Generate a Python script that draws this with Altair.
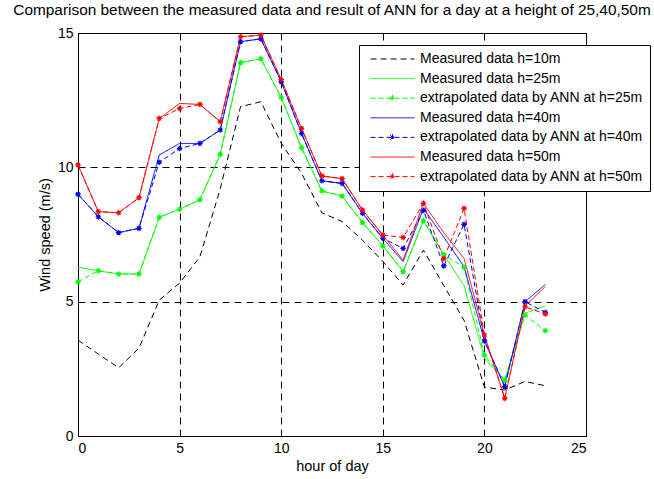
import altair as alt
import pandas as pd

hours = list(range(24))

m10 = [3.57, 3.05, 2.54, 3.27, 5.06, 5.69, 6.67, 9.2, 12.26, 12.44, 10.9, 9.78,
       8.31, 7.98, 7.29, 6.5, 5.62, 6.92, 5.6, 4.3, 1.82, 1.71, 2.03, 1.87]
m25 = [6.28, 6.15, 6.03, 6.03, 8.14, 8.44, 8.8, 10.48, 13.9, 14.04, 12.6, 10.73,
       9.12, 8.93, 7.94, 7.08, 6.12, 8.01, 6.75, 5.6, 2.89, 2.08, 4.57, 4.84]
e25 = [5.74, 6.15, 6.03, 6.03, 8.14, 8.44, 8.8, 10.48, 13.9, 14.04, 12.6, 10.73,
       9.12, 8.93, 7.94, 7.08, 6.12, 8.01, 6.75, 6.28, 3.01, 2.08, 4.5, 3.92]
m40 = [9.0, 8.16, 7.57, 7.73, 10.46, 10.89, 10.89, 11.39, 14.68, 14.78, 13.19, 11.26,
       9.5, 9.4, 8.29, 7.36, 6.49, 8.47, 7.4, 6.3, 3.55, 1.84, 5.0, 5.64]
e40 = [9.0, 8.16, 7.57, 7.73, 10.19, 10.7, 10.89, 11.39, 14.68, 14.78, 13.19, 11.26,
       9.5, 9.4, 8.29, 7.36, 6.98, 8.4, 6.33, 7.88, 3.54, 1.84, 5.0, 4.6]
m50 = [10.09, 8.35, 8.31, 8.87, 11.82, 12.38, 12.34, 11.7, 14.86, 14.92, 13.27, 11.45,
       9.68, 9.58, 8.41, 7.48, 6.55, 8.66, 7.57, 6.61, 3.76, 1.4, 4.84, 5.56]
e50 = [10.09, 8.35, 8.31, 8.87, 11.82, 12.19, 12.34, 11.7, 14.86, 14.92, 13.27, 11.45,
       9.68, 9.58, 8.41, 7.48, 7.39, 8.66, 6.6, 8.47, 3.76, 1.4, 4.81, 4.54]

names = [
    "Measured data h=10m",
    "Measured data h=25m",
    "extrapolated data by ANN at h=25m",
    "Measured data h=40m",
    "extrapolated data by ANN at h=40m",
    "Measured data h=50m",
    "extrapolated data by ANN at h=50m",
]
series_values = [m10, m25, e25, m40, e40, m50, e50]
ext_names = [names[2], names[4], names[6]]

colors = ["#000000", "#00FF00", "#00FF00", "#0000FF", "#0000FF", "#FF0000", "#FF0000"]
dashes = [[6, 4], [1, 0], [5, 3], [1, 0], [5, 3], [1, 0], [5, 3]]

LINE_PATH = "M-0.45,0H7.55"
STAR_LEG = ("M-0.45,0H7.55M3.55,-0.6V0.6M2.95,0H4.15M3.13,-0.42L3.97,0.42M3.13,0.42L3.97,-0.42")
legend_shapes = [LINE_PATH, LINE_PATH, STAR_LEG, LINE_PATH, STAR_LEG, LINE_PATH, STAR_LEG]
ASTERISK = "M-1,0H1M0,-1V1M-0.7,-0.7L0.7,0.7M-0.7,0.7L0.7,-0.7"

rows = []
for k, (name, vals) in enumerate(zip(names, series_values)):
    for h, v in zip(hours, vals):
        rows.append({"series": name, "hour": h, "speed": v, "k": k})
df = pd.DataFrame(rows)

FONT = "Liberation Sans"

leg = alt.Legend(title=None, orient="none", legendX=281, legendY=12, zindex=1)

x = alt.X("hour:Q", scale=alt.Scale(domain=[0, 25], nice=False),
          axis=alt.Axis(values=[0, 5, 10, 15, 20, 25], title="hour of day"))
y = alt.Y("speed:Q", scale=alt.Scale(domain=[0, 15], nice=False),
          axis=alt.Axis(values=[0, 5, 10, 15], title="Wind speed (m/s)"))
color = alt.Color("series:N", scale=alt.Scale(domain=names, range=colors), legend=leg)
dash = alt.StrokeDash("series:N", scale=alt.Scale(domain=names, range=dashes), legend=leg)
shape = alt.Shape("series:N", scale=alt.Scale(domain=names, range=legend_shapes), legend=leg)

base = alt.Chart(df)

lines = base.mark_line(strokeWidth=1).encode(
    x=x, y=y, color=color, strokeDash=dash, order="hour:Q"
)

points = base.transform_filter(
    alt.FieldOneOfPredicate(field="series", oneOf=ext_names)
).mark_point(shape=ASTERISK, size=30, filled=False, strokeWidth=1.2, opacity=1).encode(
    x=x, y=y, color=color
)

dummy = base.transform_filter("false").mark_point(filled=False, strokeWidth=1).encode(
    x=x, y=y, color=color, strokeDash=dash, shape=shape
)

chart = alt.layer(lines, points, dummy).properties(
    width=508,
    height=403,
    title=alt.Title(
        "Comparison between the measured data and result of ANN for a day at a height of 25,40,50m",
        font=FONT, fontSize=15.4, fontWeight="normal", color="#000000", anchor="middle", offset=8,
    ),
    autosize=alt.AutoSizeParams(type="none"),
    padding={"left": 78, "top": 33, "right": 68, "bottom": 43},
).configure_view(
    stroke="#000000", strokeWidth=1
).configure_axis(
    grid=True, gridColor="#000000", gridDash=[7, 5], gridOpacity=1, gridWidth=1,
    ticks=False, domain=False,
    labelFont=FONT, labelFontSize=14, labelColor="#000000", labelPadding=5,
    titleFont=FONT, titleFontSize=14.5, titleFontWeight="normal", titleColor="#000000",
).configure_axisY(
    titlePadding=5
).configure_axisX(
    titlePadding=4
).configure_legend(
    fillColor="#ffffff", strokeColor="#000000", padding=7, cornerRadius=0,
    labelFont=FONT, labelFontSize=14, labelColor="#000000", labelOffset=40,
    labelLimit=400,
    symbolSize=121, symbolStrokeWidth=1, rowPadding=5.6, symbolFillColor="transparent",
)

chart.save("out.html", embed_options={"renderer": "svg", "actions": False})
